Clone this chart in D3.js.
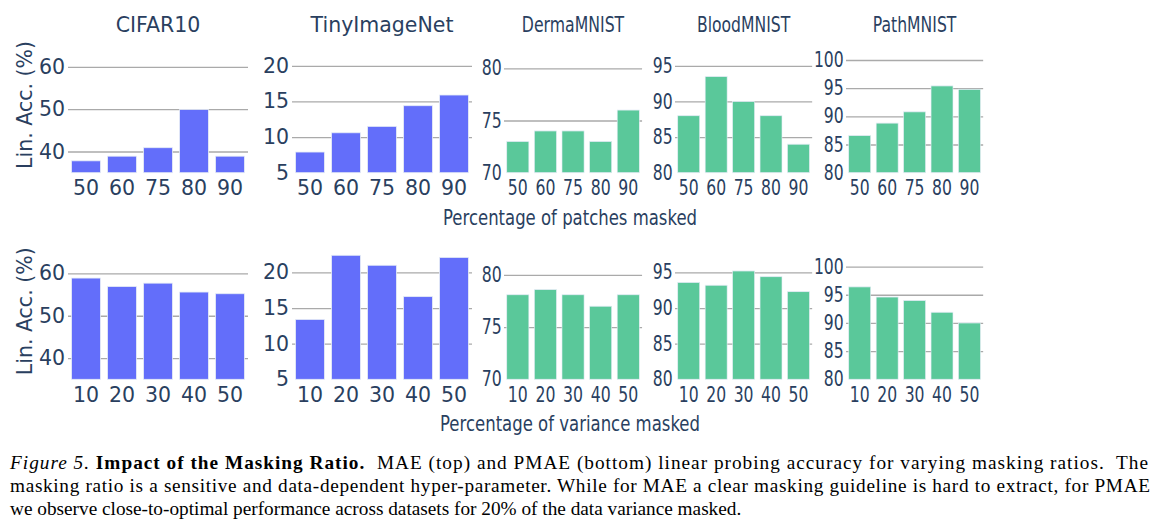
<!DOCTYPE html>
<html>
<head>
<meta charset="utf-8">
<script src="https://cdn.jsdelivr.net/npm/d3@7"></script>
<style>
  html, body { margin: 0; padding: 0; background: #fff; }
  svg { display: block; }
  .tick text { font-family: "DejaVu Sans", sans-serif; fill: #2a3f5f; }
</style>
</head>
<body>
<svg id="chart" width="1154" height="528"></svg>
<script>
// data
const datasets = ['CIFAR10', 'TinyImageNet', 'DermaMNIST', 'BloodMNIST', 'PathMNIST'];
const patchRatios = ['50', '60', '75', '80', '90'];
const varianceRatios = ['10', '20', '30', '40', '50'];

// MAE, percentage of patches masked (top row)
const maeCIFAR10 = [37.8, 38.9, 40.9, 49.9, 38.9];
const maeTinyImageNet = [7.9, 10.6, 11.5, 14.4, 15.9];
const maeDermaMNIST = [73.0, 74.0, 74.0, 73.0, 76.0];
const maeBloodMNIST = [88.0, 93.5, 90.0, 88.0, 84.0];
const maePathMNIST = [86.6, 88.8, 90.8, 95.4, 94.8];

// PMAE, percentage of variance masked (bottom row)
const pmaeCIFAR10 = [58.9, 56.9, 57.7, 55.6, 55.2];
const pmaeTinyImageNet = [13.4, 22.4, 21.0, 16.6, 22.1];
const pmaeDermaMNIST = [78.1, 78.6, 78.1, 77.0, 78.1];
const pmaeBloodMNIST = [93.6, 93.2, 95.2, 94.4, 92.3];
const pmaePathMNIST = [96.4, 94.6, 94.0, 91.9, 90.0];

const yTicks = [[40, 50, 60], [5, 10, 15, 20], [70, 75, 80], [80, 85, 90, 95], [80, 85, 90, 95, 100]];
const yDomains = [[35, 66.8], [5, 23.9], [70, 82.9], [80, 98.9], [80, 103.9]];

const rows = [
  { cats: patchRatios, values: [maeCIFAR10, maeTinyImageNet, maeDermaMNIST, maeBloodMNIST, maePathMNIST],
    title: 'Percentage of patches masked' },
  { cats: varianceRatios, values: [pmaeCIFAR10, pmaeTinyImageNet, pmaeDermaMNIST, pmaeBloodMNIST, pmaePathMNIST],
    title: 'Percentage of variance masked' }
];

// layout
const textColor = '#2a3f5f';
const blue = '#636efa';
const green = '#5ac89a';
const panelColor = [blue, blue, green, green, green];
const panelX = [68, 292, 504, 675, 846];
const panelScale = [1, 1, 0.767, 0.762, 0.762]; // right part of the figure is squeezed
const panelW = 180;
const rowTop = [38, 244.6];
const plotH = 134.7;
const font = '"DejaVu Sans", sans-serif';

const svg = d3.select('#chart');

rows.forEach((row, r) => {
  datasets.forEach((name, i) => {
    const g = svg.append('g')
      .attr('transform', `translate(${panelX[i]},${rowTop[r]}) scale(${panelScale[i]},1)`);

    const x = d3.scaleBand()
      .domain(row.cats)
      .range([0, panelW])
      .paddingInner(0.2)
      .paddingOuter(0.1);

    const y = d3.scaleLinear()
      .domain(yDomains[i])
      .range([plotH, 0]);

    const yAxis = g.append('g')
      .call(d3.axisLeft(y).tickValues(yTicks[i]).tickSize(-panelW).tickPadding(3));
    yAxis.select('.domain').remove();
    yAxis.selectAll('.tick line')
      .attr('stroke', '#aaaaaa')
      .attr('stroke-width', 1.3)
      .filter(d => d === yDomains[i][0]).remove();
    yAxis.selectAll('.tick text').attr('font-size', 20.5).style('font-family', font);

    g.selectAll('rect')
      .data(row.values[i])
      .join('rect')
      .attr('x', (_, k) => x(row.cats[k]))
      .attr('y', d => y(d))
      .attr('width', x.bandwidth())
      .attr('height', d => y(yDomains[i][0]) - y(d))
      .attr('fill', panelColor[i])
      .attr('stroke', '#e5ecf6')
      .attr('stroke-width', 0.8);

    const xAxis = g.append('g')
      .attr('transform', `translate(0,${plotH})`)
      .call(d3.axisBottom(x).tickSize(0).tickPadding(8));
    xAxis.select('.domain').remove();
    xAxis.selectAll('.tick text').attr('font-size', 20.5).style('font-family', font);

    if (r === 0) {
      g.append('text')
        .attr('x', panelW / 2)
        .attr('y', 32 - rowTop[0])
        .attr('text-anchor', 'middle')
        .attr('font-size', 20.5)
        .attr('font-family', font)
        .attr('fill', textColor)
        .text(name);
    }
  });

  // y title
  svg.append('text')
    .attr('transform', `translate(32,${105 + r * 206.3}) rotate(-90)`)
    .attr('text-anchor', 'middle')
    .attr('font-size', 20.5)
    .attr('font-family', font)
    .attr('fill', textColor)
    .text('Lin. Acc. (%)');

  // x title
  svg.append('text')
    .attr('x', r === 0 ? 443 : 440)
    .attr('y', r === 0 ? 225 : 431)
    .attr('textLength', r === 0 ? 254 : 260)
    .attr('lengthAdjust', 'spacingAndGlyphs')
    .attr('font-size', 20.5)
    .attr('font-family', font)
    .attr('fill', textColor)
    .text(row.title);
});

// caption
const serif = "'Liberation Serif'";
const capLines = [
  [['Figure 5.', 'italic', 'normal'], [' ', 'normal', 'normal'], ['Impact of the Masking Ratio.', 'normal', 'bold'],
   ['  MAE (top) and PMAE (bottom) linear probing accuracy for varying masking ratios.  The', 'normal', 'normal']],
  [['masking ratio is a sensitive and data-dependent hyper-parameter. While for MAE a clear masking guideline is hard to extract, for PMAE', 'normal', 'normal']],
  [['we observe close-to-optimal performance across datasets for 20% of the data variance masked.', 'normal', 'normal']]
];
const capBase = [469, 492, 515];
const capLen = [1138, 1140, null];

const probe = svg.append('text').attr('font-size', 20).style('font-family', serif)
  .text(capLines[2][0][0]);
const capSize = Math.min(21, 20 * 732 / probe.node().getComputedTextLength());
probe.remove();

capLines.forEach((parts, li) => {
  const t = svg.append('text')
    .attr('x', 10)
    .attr('y', capBase[li])
    .attr('font-size', capSize)
    .attr('fill', '#000')
    .style('font-family', serif)
    .style('white-space', 'pre');
  parts.forEach(([s, fs, fw]) => {
    t.append('tspan')
      .style('font-family', serif)
      .style('font-style', fs)
      .style('font-weight', fw)
      .text(s);
  });
  if (capLen[li]) t.attr('textLength', capLen[li]).attr('lengthAdjust', 'spacing');
});
</script>
</body>
</html>
